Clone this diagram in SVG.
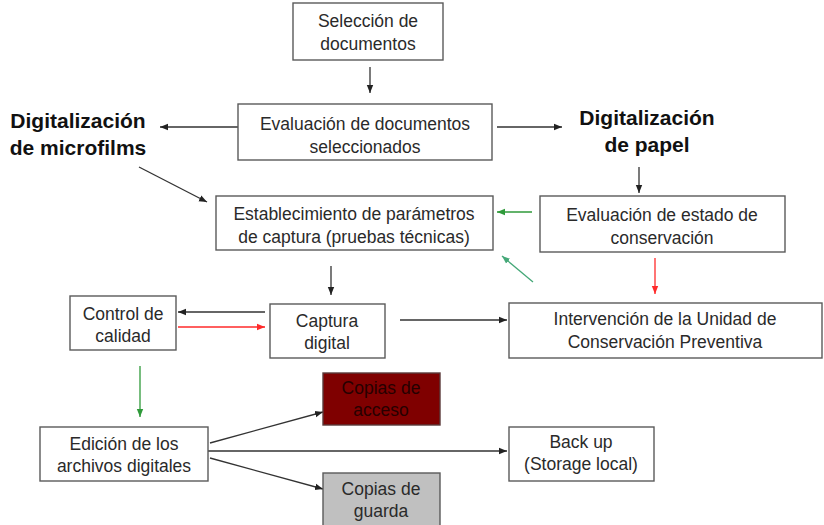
<svg xmlns="http://www.w3.org/2000/svg" width="824" height="525" viewBox="0 0 824 525">
<defs>
<style>
.box{fill:#fff;stroke:#5a5a5a;stroke-width:1.4}
.t{font-family:"Liberation Sans",Arial,sans-serif;font-size:17.5px;fill:#2a2a2a;text-anchor:middle}
.h{font-family:"Liberation Sans",Arial,sans-serif;font-size:21px;font-weight:bold;fill:#111;text-anchor:middle}
.k{stroke:#333;stroke-width:1.3;fill:none}
.g{stroke:#2f9a3a;stroke-width:1.3;fill:none}
.g2{stroke:#45a878;stroke-width:1.3;fill:none}
.r{stroke:#ff2a2a;stroke-width:1.3;fill:none}
</style>
<marker id="ak" viewBox="0 0 8 8" refX="8" refY="4" markerWidth="8" markerHeight="8" markerUnits="userSpaceOnUse" orient="auto"><path d="M0,0.8L8,4L0,7.2z" fill="#222"/></marker>
<marker id="ag" viewBox="0 0 8 8" refX="8" refY="4" markerWidth="8" markerHeight="8" markerUnits="userSpaceOnUse" orient="auto"><path d="M0,0.8L8,4L0,7.2z" fill="#2f9a3a"/></marker>
<marker id="ag2" viewBox="0 0 8 8" refX="8" refY="4" markerWidth="8" markerHeight="8" markerUnits="userSpaceOnUse" orient="auto"><path d="M0,0.8L8,4L0,7.2z" fill="#45a878"/></marker>
<marker id="ar" viewBox="0 0 8 8" refX="8" refY="4" markerWidth="8" markerHeight="8" markerUnits="userSpaceOnUse" orient="auto"><path d="M0,0.8L8,4L0,7.2z" fill="#ff2a2a"/></marker>
</defs>
<rect width="824" height="525" fill="#fff"/>
<g id="connectors">
<line class="k" x1="370" y1="67" x2="370" y2="93" marker-end="url(#ak)"/>
<line class="k" x1="238" y1="127" x2="160" y2="127" marker-end="url(#ak)"/>
<line class="k" x1="497" y1="127" x2="562" y2="127" marker-end="url(#ak)"/>
<line class="k" x1="139" y1="167" x2="207" y2="202" marker-end="url(#ak)"/>
<line class="k" x1="639" y1="167" x2="639" y2="193" marker-end="url(#ak)"/>
<line class="g" x1="532" y1="212" x2="497" y2="212" marker-end="url(#ag)"/>
<line class="g2" x1="533" y1="282" x2="502" y2="256" marker-end="url(#ag2)"/>
<line class="r" x1="655" y1="258" x2="655" y2="294" marker-end="url(#ar)"/>
<line class="k" x1="331" y1="266" x2="331" y2="295" marker-end="url(#ak)"/>
<line class="k" x1="265" y1="312" x2="178" y2="312" marker-end="url(#ak)"/>
<line class="r" x1="178" y1="327" x2="265" y2="327" marker-end="url(#ar)"/>
<line class="k" x1="400" y1="320" x2="507" y2="320" marker-end="url(#ak)"/>
<line class="g" x1="140" y1="366" x2="140" y2="417" marker-end="url(#ag)"/>
<line class="k" x1="210" y1="443" x2="323" y2="412" marker-end="url(#ak)"/>
<line class="k" x1="208" y1="451" x2="507" y2="451" marker-end="url(#ak)"/>
<line class="k" x1="210" y1="458" x2="323" y2="489" marker-end="url(#ak)"/>
</g>
<g id="seleccion">
<rect class="box" x="293" y="3" width="150" height="57"/>
<text class="t" x="368" y="27">Selección de</text>
<text class="t" x="368" y="50">documentos</text>
</g>
<g id="evaluacion">
<rect class="box" x="238" y="104" width="254" height="56"/>
<text class="t" x="365" y="130">Evaluación de documentos</text>
<text class="t" x="365" y="153">seleccionados</text>
</g>
<g id="microfilms">
<text class="h" x="78" y="128">Digitalización</text>
<text class="h" x="78" y="155">de microfilms</text>
</g>
<g id="papel">
<text class="h" x="647" y="125">Digitalización</text>
<text class="h" x="647" y="152">de papel</text>
</g>
<g id="establecimiento">
<rect class="box" x="216" y="196" width="277" height="54"/>
<text class="t" x="354" y="220">Establecimiento de parámetros</text>
<text class="t" x="354" y="243">de captura (pruebas técnicas)</text>
</g>
<g id="estado">
<rect class="box" x="540" y="196" width="245" height="56"/>
<text class="t" x="662" y="221">Evaluación de estado de</text>
<text class="t" x="662" y="244">conservación</text>
</g>
<g id="control">
<rect class="box" x="70" y="296" width="106" height="54"/>
<text class="t" x="123" y="320">Control de</text>
<text class="t" x="123" y="342">calidad</text>
</g>
<g id="captura">
<rect class="box" x="270" y="304" width="115" height="54"/>
<text class="t" x="327" y="327">Captura</text>
<text class="t" x="327" y="349">digital</text>
</g>
<g id="intervencion">
<rect class="box" x="509" y="303" width="313" height="55"/>
<text class="t" x="665" y="325">Intervención de la Unidad de</text>
<text class="t" x="665" y="348">Conservación Preventiva</text>
</g>
<g id="edicion">
<rect class="box" x="40" y="427" width="168" height="54"/>
<text class="t" x="124" y="450">Edición de los</text>
<text class="t" x="124" y="472">archivos digitales</text>
</g>
<g id="acceso">
<rect x="323" y="373" width="117" height="52" fill="#7f0000" stroke="#5a3a3a" stroke-width="1.4"/>
<text class="t" x="381" y="394" style="fill:#260000">Copias de</text>
<text class="t" x="381" y="416" style="fill:#260000">acceso</text>
</g>
<g id="backup">
<rect class="box" x="509" y="427" width="145" height="54"/>
<text class="t" x="581" y="448">Back up</text>
<text class="t" x="581" y="470">(Storage local)</text>
</g>
<g id="guarda">
<rect x="323" y="473" width="117" height="56" fill="#c0c0c0" stroke="#5a5a5a" stroke-width="1.4"/>
<text class="t" x="381" y="495">Copias de</text>
<text class="t" x="381" y="517">guarda</text>
</g>
</svg>
